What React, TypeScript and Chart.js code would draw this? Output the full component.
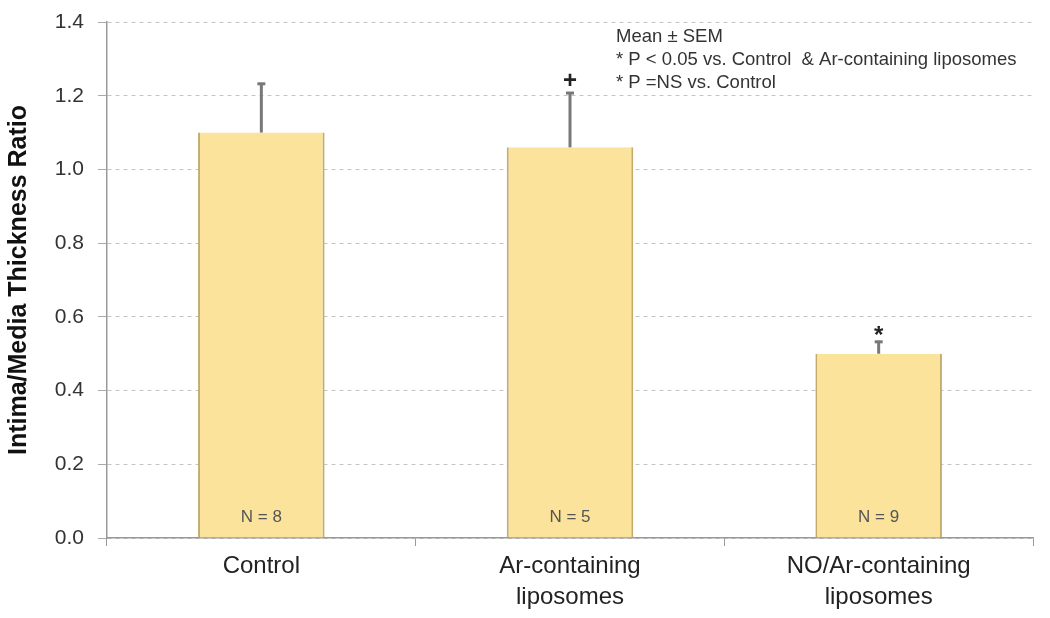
import React, { useEffect, useRef } from "react";
import { Chart, registerables } from "chart.js";

Chart.register(...registerables);

const categories: (string | string[])[] = [
  "Control",
  ["Ar-containing", "liposomes"],
  ["NO/Ar-containing", "liposomes"],
];
const means = [1.1, 1.06, 0.5];
const sem = [0.135, 0.15, 0.035];
const sampleLabels = ["N = 8", "N = 5", "N = 9"];
const markers = ["", "+", "*"];
const notes = [
  "Mean \u00b1 SEM",
  "* P < 0.05 vs. Control  & Ar-containing liposomes",
  "* P =NS vs. Control",
];
const yTicks = [0, 0.2, 0.4, 0.6, 0.8, 1.0, 1.2, 1.4];

const FONT = "'Liberation Sans', Arial, sans-serif";

const overlay = {
  id: "overlay",
  afterDatasetsDraw(chart: any) {
    const { ctx, scales } = chart;
    const x = scales.x;
    const y = scales.y;
    ctx.save();
    means.forEach((m, i) => {
      const cx = x.getPixelForValue(i);
      const top = y.getPixelForValue(m + sem[i]);
      const base = y.getPixelForValue(m);
      ctx.strokeStyle = "#787878";
      ctx.lineWidth = 3;
      ctx.beginPath();
      ctx.moveTo(cx, base);
      ctx.lineTo(cx, top);
      ctx.stroke();
      ctx.beginPath();
      ctx.moveTo(cx - 4, top + 1);
      ctx.lineTo(cx + 4, top + 1);
      ctx.stroke();
      ctx.fillStyle = "#555";
      ctx.font = `17px ${FONT}`;
      ctx.textAlign = "center";
      ctx.textBaseline = "middle";
      ctx.fillText(sampleLabels[i], cx, y.getPixelForValue(0) - 21);
      if (markers[i]) {
        ctx.fillStyle = "#222";
        ctx.font = `bold 24px ${FONT}`;
        ctx.textBaseline = "alphabetic";
        ctx.fillText(markers[i], cx, top + (markers[i] === "*" ? 2 : -4));
      }
    });
    ctx.fillStyle = "#333";
    ctx.font = `18.5px ${FONT}`;
    ctx.textAlign = "left";
    ctx.textBaseline = "middle";
    notes.forEach((t, i) => ctx.fillText(t, 616, 37 + i * 23));
    ctx.restore();
  },
};

export default function App() {
  const ref = useRef<HTMLCanvasElement>(null);
  useEffect(() => {
    document.body.style.margin = "0";
    const chart = new Chart(ref.current!, {
      type: "bar",
      data: {
        labels: categories as any,
        datasets: [
          {
            data: means,
            backgroundColor: "#fbe39b",
            borderColor: "#c4aa6c",
            borderWidth: { left: 2, right: 2, top: 0, bottom: 0 } as any,
            barPercentage: 0.41,
            categoryPercentage: 1,
          },
        ],
      },
      options: {
        animation: false,
        responsive: false,
        maintainAspectRatio: false,
        layout: { padding: { left: 4, right: 17, top: 22, bottom: 0 } },
        plugins: { legend: { display: false }, tooltip: { enabled: false } },
        scales: {
          x: {
            grid: {
              drawOnChartArea: false,
              offset: true,
              tickLength: 8,
              color: "#999",
            },
            border: { color: "#999", width: 1.5 },
            ticks: {
              color: "#222",
              font: { family: FONT, size: 24, lineHeight: 1.3 },
              padding: 5,
              maxRotation: 0,
            },
            afterFit(s: any) {
              s.height = 80;
            },
          },
          y: {
            min: 0,
            max: 1.4,
            afterBuildTicks(s: any) {
              s.ticks = yTicks.map((v) => ({ value: v }));
            },
            grid: {
              color: "#c4c4c4",
              tickColor: "#aaa",
              tickLength: 9,
              lineWidth: 1,
            },
            border: { color: "#999", width: 1.5, dash: [4, 4] } as any,
            ticks: {
              color: "#333",
              font: { family: FONT, size: 21 },
              padding: 14,
              callback: (v: any) => Number(v).toFixed(1),
            },
            title: {
              display: true,
              text: "Intima/Media Thickness Ratio",
              color: "#111",
              font: { family: FONT, size: 25, weight: "bold" },
              padding: { top: 0, bottom: 4 },
            },
            afterFit(s: any) {
              s.width = 103;
              s.paddingTop = 0;
              s.paddingBottom = 0;
            },
          },
        },
      },
      plugins: [overlay],
    });
    return () => chart.destroy();
  }, []);
  return <canvas ref={ref} width={1050} height={618} style={{ display: "block" }} />;
}
